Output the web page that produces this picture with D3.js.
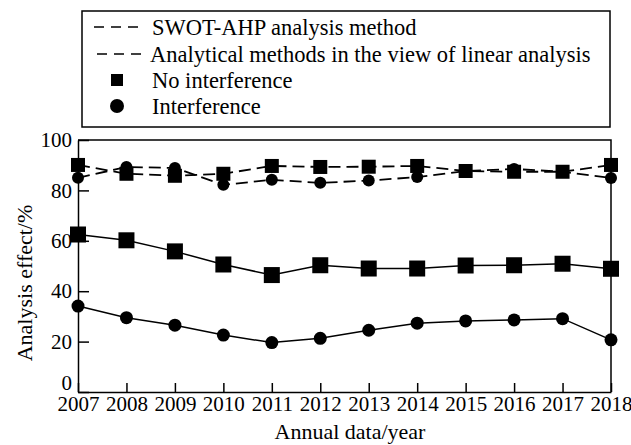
<!DOCTYPE html>
<html>
<head>
<meta charset="utf-8">
<script src="https://cdn.jsdelivr.net/npm/d3@7"></script>
<style>
  body { margin: 0; background: #fff; }
  text { font-family: "Liberation Serif", "Times New Roman", serif; fill: #000; }
  .axis path, .axis line { stroke: #000; stroke-width: 1.5; }
</style>
</head>
<body>
<div id="chart"></div>
<script>
// data
var years = ["2007","2008","2009","2010","2011","2012","2013","2014","2015","2016","2017","2018"];
var swotNoInterf = [90.1, 86.6, 85.8, 86.6, 89.7, 89.3, 89.4, 89.7, 87.7, 87.4, 87.4, 90.1];
var swotInterf   = [85.0, 89.3, 88.9, 82.2, 84.2, 83.0, 83.9, 85.3, 87.7, 88.5, 87.4, 84.9];
var linNoInterf  = [62.5, 60.2, 55.8, 50.6, 46.4, 50.3, 49.0, 49.0, 50.2, 50.3, 50.9, 48.9];
var linInterf    = [34.1, 29.5, 26.5, 22.6, 19.6, 21.3, 24.5, 27.3, 28.2, 28.6, 29.1, 20.7];
var yTicks = [0, 20, 40, 60, 80, 100];
var legendLabels = ["SWOT-AHP analysis method", "Analytical methods in the view of linear analysis", "No interference", "Interference"];

var W = 631, H = 445;
var margin = {top: 140, right: 20, bottom: 53, left: 78},
    width = W - margin.left - margin.right,
    height = H - margin.top - margin.bottom;

var svg = d3.select("#chart").append("svg")
    .attr("width", W)
    .attr("height", H);

var g = svg.append("g")
    .attr("transform", "translate(" + margin.left + "," + margin.top + ")");

var xScale = d3.scalePoint().domain(years).range([0, width]).padding(0);
var yScale = d3.scaleLinear().domain([0, 100]).range([height, 0]);

// frame (top + right)
g.append("path")
    .attr("d", "M0,0H" + width + "V" + height)
    .attr("fill", "none")
    .attr("stroke", "#000")
    .attr("stroke-width", 1.5);

// axis-x
var ax = g.append("g")
    .attr("class", "axis")
    .attr("transform", "translate(0," + height + ")")
    .call(d3.axisBottom(xScale).tickSizeInner(-9).tickSizeOuter(0).tickPadding(4));
ax.selectAll("text").style("font-size", "21px");

// axis-y
var ay = g.append("g")
    .attr("class", "axis")
    .call(d3.axisLeft(yScale).tickValues(yTicks).tickSizeInner(-11).tickSizeOuter(0).tickPadding(6));
ay.selectAll("text").style("font-size", "21px")
    .attr("dy", function(d) { return d == 0 ? "-0.12em" : "0.32em"; });

// axis titles
svg.append("text")
    .attr("transform", "translate(24," + 283 + ") rotate(-90)")
    .attr("text-anchor", "middle")
    .attr("dy", "0.35em")
    .style("font-size", "22px")
    .text("Analysis effect/%");

svg.append("text")
    .attr("x", 350)
    .attr("y", 439)
    .attr("text-anchor", "middle")
    .style("font-size", "22px")
    .text("Annual data/year");

var series = [
  {vals: swotNoInterf, dash: "12,6", mark: "square", size: 14},
  {vals: swotInterf,   dash: "12,6", mark: "circle", size: 6},
  {vals: linNoInterf,  dash: null,   mark: "square", size: 16},
  {vals: linInterf,    dash: null,   mark: "circle", size: 6.5}
];

var line = d3.line()
    .x(function(d, i) { return xScale(years[i]); })
    .y(function(d) { return yScale(d); });

series.forEach(function(s) {
  g.append("path")
    .attr("d", line(s.vals))
    .attr("fill", "none")
    .attr("stroke", "#000")
    .attr("stroke-width", s.dash ? 1.8 : 1.5)
    .attr("stroke-dasharray", s.dash);

  var pts = g.append("g").selectAll(".pt")
    .data(s.vals)
    .enter();
  if (s.mark == "square") {
    pts.append("rect")
      .attr("x", function(d, i) { return xScale(years[i]) - s.size / 2; })
      .attr("y", function(d) { return yScale(d) - s.size / 2; })
      .attr("width", s.size)
      .attr("height", s.size)
      .attr("fill", "#000");
  } else {
    pts.append("circle")
      .attr("cx", function(d, i) { return xScale(years[i]); })
      .attr("cy", function(d) { return yScale(d); })
      .attr("r", s.size)
      .attr("fill", "#000");
  }
});

// legend
var lg = svg.append("g");
lg.append("rect")
    .attr("x", 82).attr("y", 11)
    .attr("width", 528).attr("height", 116)
    .attr("fill", "none")
    .attr("stroke", "#000")
    .attr("stroke-width", 1.5);

var rowY = [27, 54, 80, 106];
legendLabels.forEach(function(t, i) {
  if (i < 2) {
    lg.append("line")
      .attr("x1", 94 + i * 3).attr("x2", 140 + i * 2)
      .attr("y1", rowY[i]).attr("y2", rowY[i])
      .attr("stroke", "#000")
      .attr("stroke-width", 1.5)
      .attr("stroke-dasharray", "10,7");
  } else if (i == 2) {
    lg.append("rect")
      .attr("x", 111).attr("y", rowY[i] - 6)
      .attr("width", 12).attr("height", 12)
      .attr("fill", "#000");
  } else {
    lg.append("circle")
      .attr("cx", 117).attr("cy", rowY[i])
      .attr("r", 7)
      .attr("fill", "#000");
  }
  lg.append("text")
    .attr("x", i == 1 ? 150 : 152)
    .attr("y", rowY[i])
    .attr("dy", "0.35em")
    .style("font-size", "22.5px")
    .text(t);
});
</script>
</body>
</html>
